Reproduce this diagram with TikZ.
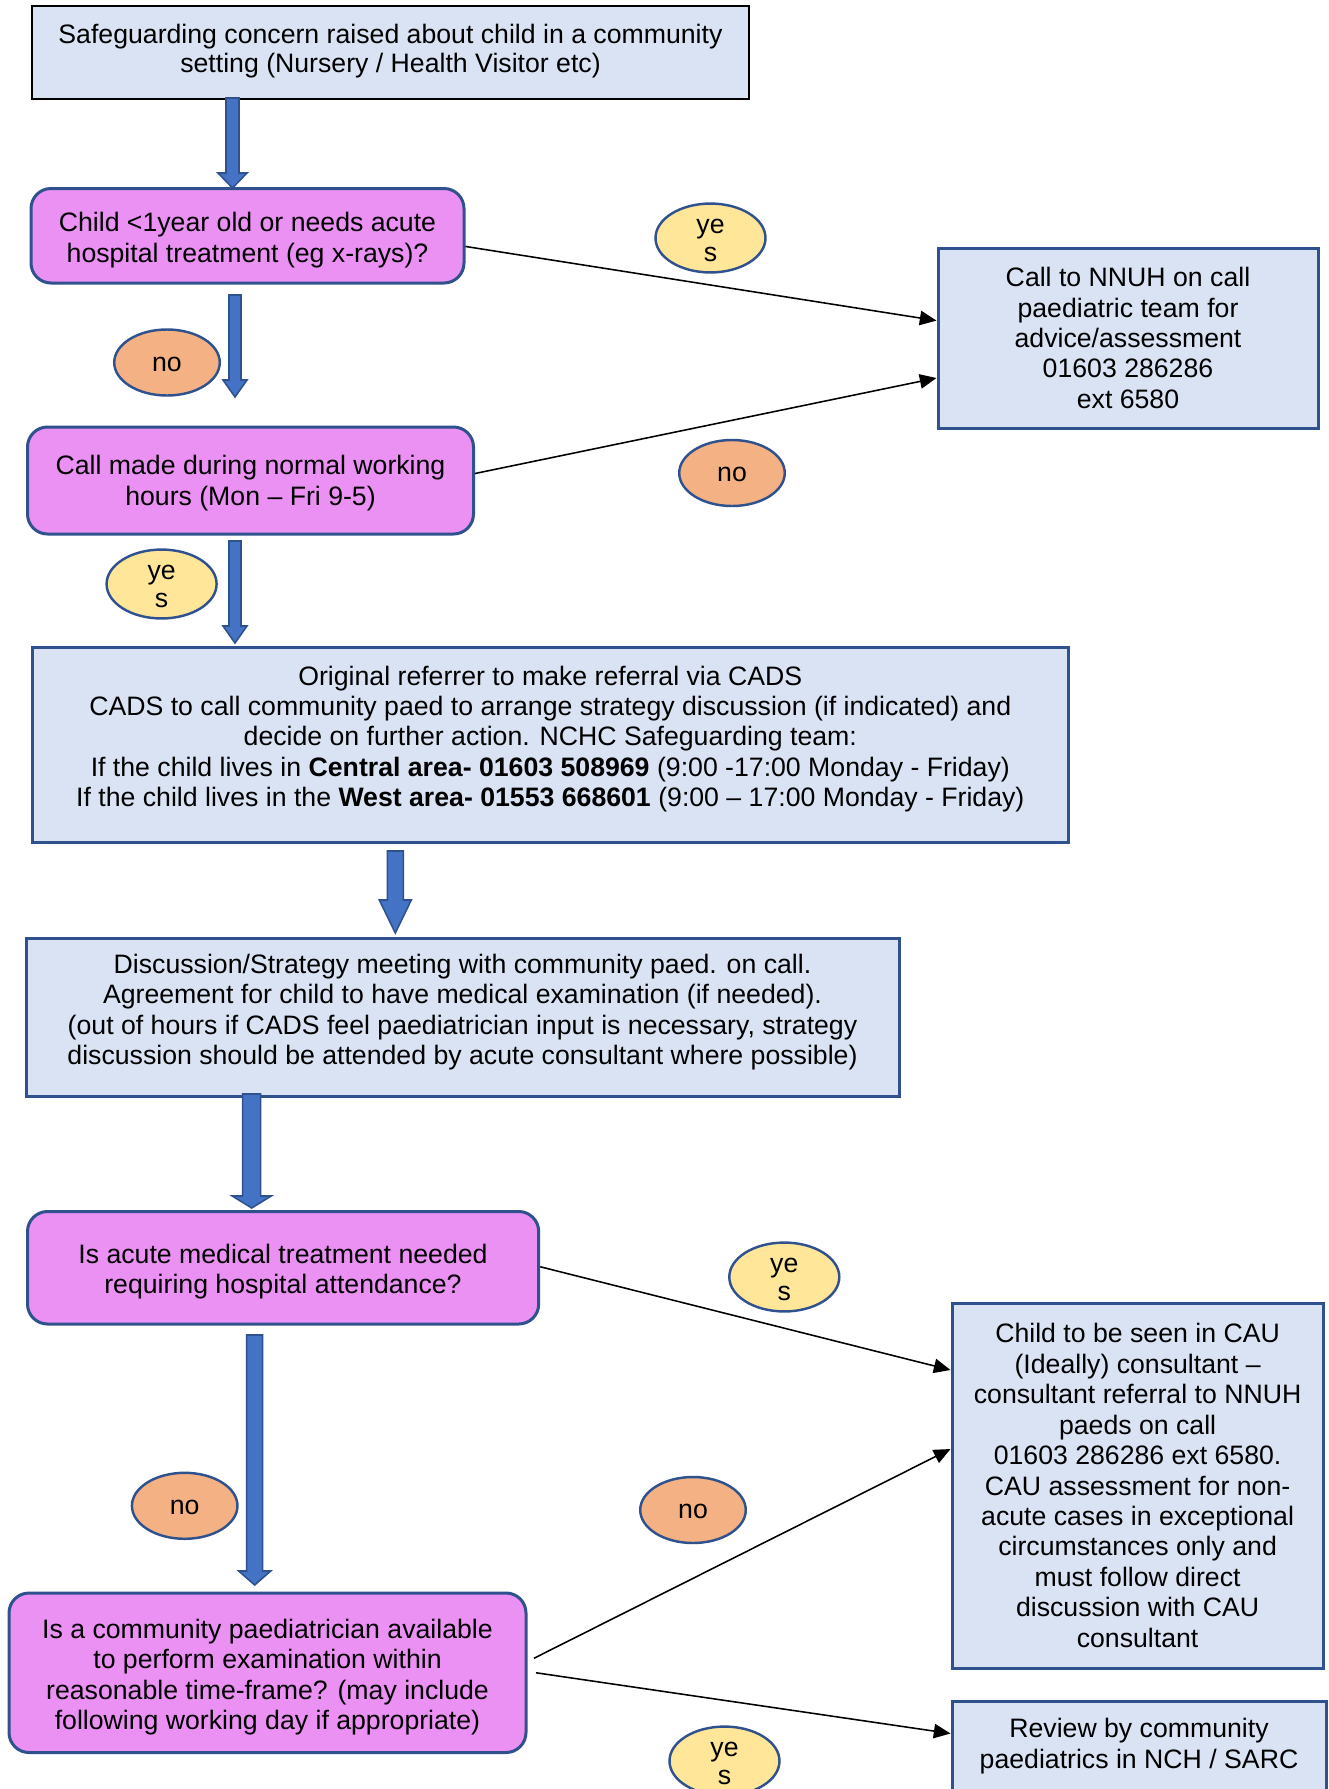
\documentclass[tikz,border=0pt]{standalone}
\usepackage{fontspec}
\setmainfont{Liberation Sans}
\usetikzlibrary{arrows.meta,shapes.geometric,fit,calc}
\definecolor{lightblue}{HTML}{DAE3F3}
\definecolor{boxblue}{HTML}{2F528F}
\definecolor{pinkfill}{RGB}{234,145,243}
\definecolor{yellowfill}{HTML}{FFE699}
\definecolor{orangefill}{HTML}{F4B183}
\definecolor{arrowblue}{HTML}{4472C4}
% x, y top, y tip, half shaft, half head, head length
\newcommand\blockarrow[6]{%
  \filldraw[barrow] (#1-#4,#2) -- (#1+#4,#2) -- (#1+#4,#3-#6) -- (#1+#5,#3-#6) -- (#1,#3) -- (#1-#5,#3-#6) -- (#1-#4,#3-#6) -- cycle;}
\begin{document}
\begin{tikzpicture}[x=0.45pt, y=-0.45pt,
  bbox/.style={draw=boxblue, fill=lightblue, line width=1.35pt, inner sep=0pt},
  pbox/.style={draw=boxblue, fill=pinkfill, line width=1.35pt, rounded corners=9pt, inner sep=0pt},
  txt/.style={align=center, inner sep=0pt, font=\fontsize{12}{13.7}\selectfont},
  etxt/.style={align=center, inner sep=0pt, font=\fontsize{12}{12.9}\selectfont},
  yesell/.style={ellipse, draw=boxblue, fill=yellowfill, line width=1.1pt, inner sep=0pt, minimum width=49.5pt, minimum height=31pt},
  noell/.style={ellipse, draw=boxblue, fill=orangefill, line width=1.1pt, inner sep=0pt, minimum width=47.5pt, minimum height=29.7pt, text height=8pt, font=\fontsize{12}{13.7}\selectfont},
  conn/.style={line width=0.7pt, -{Triangle[length=7.5pt,width=6.5pt]}},
  barrow/.style={draw=boxblue, fill=arrowblue, line width=0.7pt}]
\clip (0,0) rectangle (1329,1789);
\fill[white] (0,0) rectangle (1329,1789);

% boxes
\node[bbox, draw=black, line width=1.2pt, fit={(32,6) (749,99)}] (top) {};
\node[txt, font=\fontsize{12}{13.1}\selectfont] (topT) at (390.5,51.5) {Safeguarding concern raised about child in a community\\setting (Nursery / Health Visitor etc)};

\node[pbox, fit={(31,188.5) (464,283)}] (q1) {};
\node[txt] (q1T) at (247.5,240) {Child <1year old or needs acute\\hospital treatment (eg x-rays)?};

\node[bbox, fit={(938,248) (1318,428)}] (nnuh) {};
\node[txt] (nnuhT) at (1128,338) {Call to NNUH on call\\paediatric team for\\advice/assessment\\01603 286286\\ext 6580};

\node[pbox, fit={(27.5,427) (473.5,534)}] (q2) {};
\node[txt] (q2T) at (250.5,483) {Call made during normal working\\hours (Mon – Fri 9-5)};

\node[bbox, fit={(32,647) (1068.5,842)}] (cads) {};
\node[txt] (cadsT) at (550.3,739) {Original referrer to make referral via CADS\\CADS to call community paed to arrange strategy discussion (if indicated) and\\decide on further action. NCHC Safeguarding team:\\If the child lives in \textbf{Central area- 01603 508969} (9:00 -17:00 Monday - Friday)\\If the child lives in the \textbf{West area- 01553 668601} (9:00 – 17:00 Monday - Friday)};

\node[bbox, fit={(26,938) (899,1096.5)}] (disc) {};
\node[txt] (discT) at (462.5,1012) {Discussion/Strategy meeting with community paed. on call.\\Agreement for child to have medical examination (if needed).\\(out of hours if CADS feel paediatrician input is necessary, strategy\\discussion should be attended by acute consultant where possible)};

\node[pbox, fit={(27.5,1211.5) (538.7,1324)}] (q3) {};
\node[txt] (q3T) at (283,1271.5) {Is acute medical treatment needed\\requiring hospital attendance?};

\node[bbox, fit={(952,1303) (1323.3,1668)}] (cau) {};
\node[txt] (cauT) at (1137.6,1485.5) {Child to be seen in CAU\\(Ideally) consultant –\\consultant referral to NNUH\\paeds on call\\01603 286286 ext 6580.\\CAU assessment for non-\\acute cases in exceptional\\circumstances only and\\must follow direct\\discussion with CAU\\consultant};

\node[pbox, fit={(9,1593) (526,1752.5)}] (q4) {};
\node[txt] (q4T) at (267.5,1677) {Is a community paediatrician available\\to perform examination within\\reasonable time-frame? (may include\\following working day if appropriate)};

\node[bbox, fit={(952,1701) (1326,1840)}] (rev) {};
\node[txt] (revT) at (1139,1746) {Review by community\\paediatrics in NCH / SARC};

% yes / no labels
\node[yesell] (y1) at (710.5,238) {};
\node[etxt] (y1T) at ($(y1)+(0,2.5)$) {ye\\s};
\node[noell] (n1) at (167,362.5) {no};
\node[noell] (n2) at (732,473) {no};
\node[yesell] (y2) at (161.6,584) {};
\node[etxt] (y2T) at ($(y2)+(0,2.5)$) {ye\\s};
\node[yesell] (y3) at (784.3,1277) {};
\node[etxt] (y3T) at ($(y3)+(0,2.5)$) {ye\\s};
\node[noell] (n3) at (184.7,1505.8) {no};
\node[noell] (n4) at (693,1510) {no};
\node[yesell] (y4) at (724.5,1761) {};
\node[etxt] (y4T) at ($(y4)+(0,2.5)$) {ye\\s};

% thin connectors
\draw[conn] ($(q1.east)+(0,10.7)$) -- ($(nnuh.west)+(0,-17.4)$);
\draw[conn] ($(q2.east)+(0,-7)$) -- ($(nnuh.west)+(0,40)$);
\draw[conn] ($(q3.east)+(0,-1)$) -- ($(cau.west)+(0,-115.5)$);
\draw[conn] ($(q4.east)+(6.5,-14.5)$) -- ($(cau.west)+(0,-36.5)$);
\draw[conn] ($(q4.east)+(8.5,0)$) -- ($(rev.west)+(0,-37)$);

% block arrows
\blockarrow{232.5}{98}{188}{6.5}{14.5}{15}
\blockarrow{235}{295}{397}{6}{12}{17}
\blockarrow{235}{541}{643}{6}{12}{17}
\blockarrow{395.3}{851}{933}{8}{16}{33}
\blockarrow{251.7}{1094}{1208}{9}{19.5}{12}
\blockarrow{254.7}{1335}{1585}{8}{16}{14}
\end{tikzpicture}
\end{document}
